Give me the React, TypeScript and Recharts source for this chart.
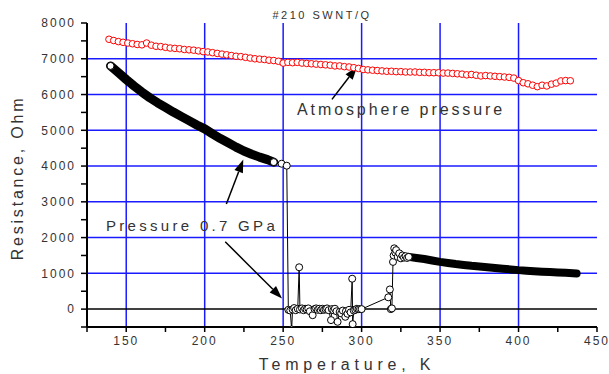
import React from "react";
import { ComposedChart, Line, XAxis, YAxis, CartesianGrid, ReferenceLine } from "recharts";

// atmosphere pressure run (red open circles)
const atmTemps = [
  139, 142, 145, 148, 151, 154, 157, 160, 163, 166, 169, 172, 175, 178, 181, 184, 187, 190, 193, 196,
  199, 202, 205, 208, 211, 214, 217, 220, 223, 226, 229, 232, 235, 238, 241, 244, 247, 250, 253, 256,
  259, 262, 265, 268, 271, 274, 277, 280, 283, 286, 289, 292, 295, 298, 301, 304, 307, 310, 313, 316,
  319, 322, 325, 328, 331, 334, 337, 340, 343, 346, 349, 352, 355, 358, 361, 364, 367, 370, 373, 376,
  379, 382, 385, 388, 391, 394, 397, 400, 403, 406, 409, 412, 415, 418, 421, 424, 427, 430, 433,
];
const atmRes = [
  7545, 7510, 7480, 7460, 7440, 7420, 7400, 7390, 7440, 7380, 7350, 7340, 7320, 7300, 7290, 7280, 7260, 7250, 7240, 7220,
  7200, 7190, 7170, 7150, 7130, 7110, 7090, 7070, 7060, 7040, 7020, 7000, 6990, 6980, 6960, 6950, 6930, 6880, 6900, 6890,
  6900, 6880, 6870, 6860, 6850, 6840, 6830, 6820, 6800, 6800, 6780, 6770, 6750, 6730, 6700, 6690, 6680, 6670, 6660, 6650,
  6650, 6640, 6640, 6630, 6630, 6630, 6620, 6620, 6610, 6610, 6610, 6600, 6600, 6590, 6580, 6570, 6550, 6560, 6540, 6520,
  6530, 6520, 6510, 6500, 6490, 6480, 6460, 6390, 6330, 6300, 6260, 6220, 6260, 6240, 6290, 6320, 6380, 6390, 6385,
];

// 0.7 GPa run, dense part below the transition
const lowTemps = [140, 145, 150, 155, 160, 165, 170, 175, 180, 185, 190, 195, 200, 205, 210, 215, 220, 225, 230, 235, 240, 244];
const lowRes = [6800, 6610, 6420, 6240, 6070, 5910, 5770, 5640, 5510, 5390, 5270, 5150, 5040, 4900, 4770, 4650, 4530, 4420, 4330, 4250, 4180, 4110];

// 0.7 GPa run, dense cluster sitting near zero
const zeroTemps = [256, 260, 265, 270, 275, 280, 285, 290, 295, 300];
const zeroRes = [0, 0, 0, 0, -20, -40, -60, -40, 0, 0];

// 0.7 GPa run, sparse points through the transition
const jumpTemps = [
  244, 249, 252.3, 253.3, 254.5, 255.4, 256, 257, 258, 259.3, 260.2, 260.7, 262, 263, 264, 265, 266, 267, 268.8, 270,
  271, 272, 273, 274, 275, 276, 277, 278, 279, 280.5, 281, 282, 283, 284, 284.7, 286, 287, 288, 289.6, 290,
  291, 292, 293, 294, 294.3, 295, 296, 297, 298, 299, 300, 317, 318, 318.6, 319.3, 320, 320.4, 320.8, 321.5, 322,
  323, 324, 325, 326, 327, 328, 329, 330,
];
const jumpRes = [
  4110, 4065, 4010, -20, -40, -570, -10, 30, -30, 10, 1170, -10, 20, -30, 10, -10, 20, -60, -170, 0,
  20, -20, 10, -30, 10, -20, 0, 20, -30, -307, 0, -30, 10, -60, -355, -80, -120, -40, -215, -60,
  -130, -20, -90, 850, -420, -40, -20, 10, 0, 0, 0, 330, 550, 0, 20, 1320, 1500, 1700, 1580, 1650,
  1460, 1560, 1420, 1500, 1440, 1480, 1430, 1460,
];

// 0.7 GPa run, dense part above the transition
const highTemps = [330, 335, 340, 345, 350, 355, 360, 365, 370, 375, 380, 385, 390, 395, 400, 405, 410, 415, 420, 425, 430, 437];
const highRes = [1460, 1430, 1400, 1360, 1320, 1290, 1260, 1235, 1210, 1190, 1170, 1150, 1130, 1110, 1090, 1075, 1060, 1048, 1035, 1025, 1015, 998];

const xTicks = [125, 150, 175, 200, 225, 250, 275, 300, 325, 350, 375, 400, 425, 450];
const yTicks = [-500, 0, 500, 1000, 1500, 2000, 2500, 3000, 3500, 4000, 4500, 5000, 5500, 6000, 6500, 7000, 7500, 8000];
const gridTemps = [150, 200, 250, 300, 350, 400];
const gridRes = [1000, 2000, 3000, 4000, 5000, 6000, 7000];

// annotation arrows, tail -> tip, in data units
const atmArrow = [{ x: 281.1, y: 5865 }, { x: 297.1, y: 6777 }];
const gpaArrowUp = [{ x: 213.8, y: 2937 }, { x: 224.6, y: 4182 }];
const gpaArrowDown = [{ x: 213.1, y: 1882 }, { x: 249.3, y: 299 }];

const zip = (ts: number[], vs: number[]) => ts.map((t, i) => ({ t, v: vs[i] }));
const atmData = zip(atmTemps, atmRes);
const lowData = zip(lowTemps, lowRes);
const zeroData = zip(zeroTemps, zeroRes);
const jumpData = zip(jumpTemps, jumpRes);
const highData = zip(highTemps, highRes);

const FONT = '"Liberation Sans", Arial, sans-serif';
const GRID = "#1a1aff";
const tickStyle = { fill: "#333", fontSize: 12, fontFamily: FONT, letterSpacing: 2 };

const Arrow = (p: any) => {
  const { x1, y1, x2, y2 } = p;
  const a = Math.atan2(y2 - y1, x2 - x1);
  const len = 13;
  const half = 4.5;
  const bx = x2 - len * Math.cos(a);
  const by = y2 - len * Math.sin(a);
  const nx = -Math.sin(a) * half;
  const ny = Math.cos(a) * half;
  return (
    <g>
      <line x1={x1} y1={y1} x2={bx} y2={by} stroke="#000" strokeWidth={1.5} />
      <polygon points={`${x2},${y2} ${bx + nx},${by + ny} ${bx - nx},${by - ny}`} fill="#000" />
    </g>
  );
};

const firstDotOnly = (p: any) =>
  p.index === 0 ? (
    <circle key={`d${p.index}`} cx={p.cx} cy={p.cy} r={3.5} fill="#fff" stroke="#000" strokeWidth={1} />
  ) : (
    <g key={`d${p.index}`} />
  );

const txt: React.CSSProperties = { position: "absolute", fontFamily: FONT, color: "#333", lineHeight: 1, whiteSpace: "nowrap" };

export default function App() {
  return (
    <div style={{ position: "relative", width: 609, height: 374, background: "#fff" }}>
      <style>{"body{margin:0}"}</style>
      <ComposedChart width={609} height={374} margin={{ top: 23, right: 12, bottom: 17, left: 27 }}>
        <CartesianGrid
          stroke={GRID}
          strokeWidth={1.5}
          strokeDasharray=""
          verticalValues={gridTemps}
          horizontalValues={gridRes}
        />
        <XAxis
          type="number"
          dataKey="t"
          domain={[125, 450]}
          ticks={xTicks}
          interval={0}
          allowDataOverflow
          height={30}
          tickSize={5}
          tickMargin={4}
          tickFormatter={(v: number) => (v % 50 === 0 ? String(v) : "")}
          tick={tickStyle}
          axisLine={{ stroke: "#000", strokeWidth: 2 }}
          tickLine={{ stroke: "#000", strokeWidth: 1.5 }}
        />
        <XAxis
          xAxisId="top"
          orientation="top"
          type="number"
          dataKey="t"
          domain={[125, 450]}
          ticks={xTicks}
          interval={0}
          allowDataOverflow
          mirror
          height={0}
          tickSize={4}
          tick={false}
          axisLine={{ stroke: "#000", strokeWidth: 2 }}
          tickLine={{ stroke: "#000", strokeWidth: 1.5 }}
        />
        <YAxis
          type="number"
          domain={[-500, 8000]}
          ticks={yTicks}
          interval={0}
          allowDataOverflow
          width={60}
          tickSize={6}
          tickMargin={5}
          tickFormatter={(v: number) => (v % 1000 === 0 ? String(v) : "")}
          tick={tickStyle}
          axisLine={{ stroke: "#000", strokeWidth: 2 }}
          tickLine={{ stroke: "#000", strokeWidth: 1.5 }}
        />
        <YAxis
          yAxisId="right"
          orientation="right"
          type="number"
          domain={[-500, 8000]}
          ticks={yTicks}
          interval={0}
          allowDataOverflow
          mirror
          width={0}
          tickSize={4}
          tick={false}
          axisLine={{ stroke: "#000", strokeWidth: 2 }}
          tickLine={{ stroke: "#000", strokeWidth: 1.5 }}
        />
        <ReferenceLine y={0} stroke="#000" strokeWidth={1.5} />
        <Line
          data={atmData}
          dataKey="v"
          stroke="none"
          strokeWidth={0}
          dot={{ r: 3.3, stroke: "#ff0000", strokeWidth: 1, fill: "#fff" }}
          isAnimationActive={false}
        />
        <Line
          data={lowData}
          dataKey="v"
          stroke="#000"
          strokeWidth={9}
          strokeLinecap="round"
          strokeLinejoin="round"
          dot={firstDotOnly}
          isAnimationActive={false}
        />
        <Line
          data={highData}
          dataKey="v"
          stroke="#000"
          strokeWidth={8}
          strokeLinecap="round"
          strokeLinejoin="round"
          dot={false}
          isAnimationActive={false}
        />
        <Line
          data={zeroData}
          dataKey="v"
          stroke="#000"
          strokeWidth={6}
          strokeLinecap="round"
          strokeLinejoin="round"
          dot={false}
          isAnimationActive={false}
        />
        <Line
          data={jumpData}
          dataKey="v"
          stroke="#000"
          strokeWidth={1}
          dot={{ r: 3.5, stroke: "#000", strokeWidth: 1, fill: "#fff" }}
          isAnimationActive={false}
        />
        <ReferenceLine segment={atmArrow} shape={Arrow} ifOverflow="visible" />
        <ReferenceLine segment={gpaArrowUp} shape={Arrow} ifOverflow="visible" />
        <ReferenceLine segment={gpaArrowDown} shape={Arrow} ifOverflow="visible" />
      </ComposedChart>

      <div style={{ ...txt, left: 222, top: 10, width: 200, textAlign: "center", fontSize: 11, letterSpacing: 2.5 }}>
        #210 SWNT/Q
      </div>
      <div
        style={{
          ...txt,
          left: 17.8 - 100,
          top: 178 - 10,
          width: 200,
          height: 20,
          lineHeight: "20px",
          textAlign: "center",
          fontSize: 16,
          letterSpacing: 2.8,
          transform: "rotate(-90deg)",
        }}
      >
        Resistance, Ohm
      </div>
      <div style={{ ...txt, left: 197, top: 356.5, width: 300, textAlign: "center", fontSize: 16, letterSpacing: 4.8 }}>
        Temperature, K
      </div>
      <div style={{ ...txt, left: 297, top: 101.5, fontSize: 16, letterSpacing: 2.9 }}>Atmosphere pressure</div>
      <div style={{ ...txt, left: 106, top: 218, fontSize: 15, letterSpacing: 3.3 }}>Pressure 0.7 GPa</div>
    </div>
  );
}
